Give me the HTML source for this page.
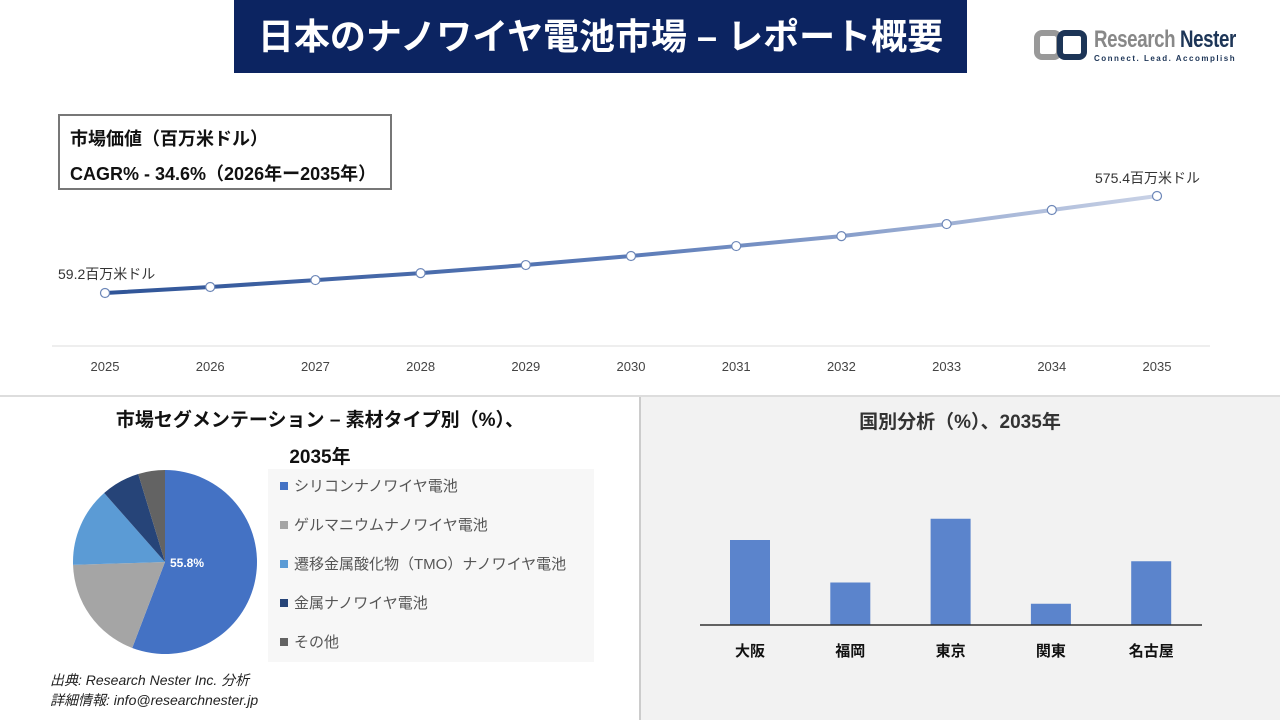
<!DOCTYPE html>
<html><head><meta charset="utf-8">
<style>
body{margin:0;width:1280px;height:720px;background:#fff;font-family:"Liberation Sans","Noto Sans CJK JP",sans-serif;position:relative;overflow:hidden}
.abs{position:absolute}
</style></head><body>
<div class="abs" style="left:234px;top:0;width:733px;height:73px;background:#0c2461;color:#fff;font-size:36px;font-weight:bold;line-height:73px;text-align:center;white-space:nowrap">日本のナノワイヤ電池市場 – レポート概要</div>
<div class="abs" style="left:1034px;top:26px;width:220px;height:40px">
<svg width="56" height="36" style="position:absolute;left:0;top:2px"><rect x="3" y="5" width="22" height="24" rx="5" fill="none" stroke="#999" stroke-width="6"/><rect x="26" y="5" width="24" height="24" rx="5" fill="none" stroke="#1d3557" stroke-width="6"/></svg>
<div class="abs" style="left:60px;top:0;font-size:24px;font-weight:bold;color:#888;white-space:nowrap;letter-spacing:-0.5px;transform:scaleX(0.78);transform-origin:left top">Research <span style="color:#1d3557">Nester</span></div>
<div class="abs" style="left:60px;top:28px;font-size:8px;font-weight:bold;color:#1d3557;letter-spacing:1.5px;white-space:nowrap">Connect. Lead. Accomplish</div>
</div>
<div class="abs" style="left:58px;top:114px;width:330px;height:72px;border:2px solid #777;font-weight:bold;font-size:18px;color:#111">
<div style="position:absolute;left:10px;top:9px">市場価値（百万米ドル）</div>
<div style="position:absolute;left:10px;top:44px;white-space:nowrap">CAGR% - 34.6%（2026年ー2035年）</div>
</div>
<svg class="abs" style="left:0;top:0" width="1280" height="400" id="lineSvg">
<defs><linearGradient id="lg" x1="105" x2="1157" y1="0" y2="0" gradientUnits="userSpaceOnUse"><stop offset="0" stop-color="#2f5497"/><stop offset="0.5" stop-color="#5b7bb8"/><stop offset="1" stop-color="#c9d2e6"/></linearGradient></defs>
<line x1="52" x2="1210" y1="346" y2="346" stroke="#ddd"/>
</svg>
<div class="abs" style="left:0;top:395px;width:1280px;height:2px;background:#ddd"></div>
<div class="abs" style="left:640px;top:397px;width:640px;height:323px;background:#f2f2f2"></div>
<div class="abs" style="left:639px;top:397px;width:2px;height:323px;background:#ccc"></div>
<div class="abs" style="left:60px;top:402px;width:520px;text-align:center;font-weight:bold;font-size:19px;line-height:37px;color:#111">市場セグメンテーション – 素材タイプ別（%）、<br>2035年</div>
<div class="abs" style="left:268px;top:469px;width:326px;height:193px;background:#f7f7f7"></div>
<svg class="abs" style="left:0;top:397px" width="640" height="323" id="pieSvg"></svg>
<div class="abs" style="left:50px;top:670px;font-style:italic;font-size:14px;color:#222;line-height:20px">出典: Research Nester Inc. 分析<br>詳細情報: info@researchnester.jp</div>
<div class="abs" style="left:640px;top:407px;width:640px;text-align:center;font-weight:bold;font-size:19px;color:#333">国別分析（%）、2035年</div>
<svg class="abs" style="left:640px;top:397px" width="640" height="323" id="barSvg"></svg>
<script>
const years=[2025,2026,2027,2028,2029,2030,2031,2032,2033,2034,2035];
const values=[59.2,91,128,165,208,256,309,362,426,501,575.4];
const pieLabels=["シリコンナノワイヤ電池","ゲルマニウムナノワイヤ電池","遷移金属酸化物（TMO）ナノワイヤ電池","金属ナノワイヤ電池","その他"];
const pieValues=[55.8,18.7,14.0,6.8,4.7];
const pieColors=["#4472c4","#a5a5a5","#5b9bd5","#264478","#636363"];
const regions=["大阪","福岡","東京","関東","名古屋"];
const regionValues=[20,10,25,5,15];
const NS="http://www.w3.org/2000/svg";
function mk(p,t,a){const e=document.createElementNS(NS,t);for(const k in a)e.setAttribute(k,a[k]);p.appendChild(e);return e;}
const ls=document.getElementById('lineSvg');
const xS=i=>105+i*105.2;
const yS=v=>293-(v-59.2)*(97/516.2);
let d=values.map((v,i)=>(i?'L':'M')+xS(i)+','+yS(v)).join(' ');
const path=mk(ls,'path',{d:d,fill:'none',stroke:'url(#lg)','stroke-width':4});


values.forEach((v,i)=>{
 const c=mk(ls,'circle',{cx:xS(i),cy:yS(v),r:4.5,fill:'#fff',stroke:'#6d87b8','stroke-width':1.2});
 
 
 const t=mk(ls,'text',{x:xS(i),y:371,'text-anchor':'middle','font-size':13,fill:'#444'});
 t.textContent=years[i];
 
 
});
const l1=mk(ls,'text',{x:58,y:279,'font-size':14,fill:'#333'});l1.textContent=values[0]+'百万米ドル';


const l2=mk(ls,'text',{x:1095,y:183,'font-size':14,fill:'#333'});l2.textContent=values[10]+'百万米ドル';


const ps=document.getElementById('pieSvg');
const cx=165,cy=165,r=92;
const tot=pieValues.reduce((a,b)=>a+b,0);
let acc=0;
pieValues.forEach((v,i)=>{
 const a0=acc/tot*2*Math.PI;acc+=v;const a1=acc/tot*2*Math.PI;
 const x0=cx+r*Math.sin(a0),y0=cy-r*Math.cos(a0),x1=cx+r*Math.sin(a1),y1=cy-r*Math.cos(a1);
 const s=mk(ps,'path',{d:`M${cx},${cy} L${x0},${y0} A${r},${r} 0 ${a1-a0>Math.PI?1:0} 1 ${x1},${y1} Z`,fill:pieColors[i]});
 
 
 const ly=90+i*39;
 const sq=mk(ps,'rect',{x:280,y:ly-5,width:8,height:8,fill:pieColors[i]});
 
 
 const t=mk(ps,'text',{x:294,y:ly+4,'font-size':15,fill:'#555'});t.textContent=pieLabels[i];
 
 
});
const pl=mk(ps,'text',{x:170,y:170,'font-size':12,'font-weight':'bold',fill:'#fff'});pl.textContent=pieValues[0]+'%';


const bs=document.getElementById('barSvg');
const base=228,hs=85/20;
regions.forEach((n,i)=>{
 const cxb=110+i*100.3,h=regionValues[i]*hs;
 const b=mk(bs,'rect',{x:cxb-20,y:base-h,width:40,height:h,fill:'#5b84cc'});
 
 
 const t=mk(bs,'text',{x:cxb,y:259,'text-anchor':'middle','font-size':15,'font-weight':'bold',fill:'#111'});t.textContent=n;
 
 
});
const ax=mk(bs,'line',{x1:60,x2:562,y1:base,y2:base,stroke:'#333','stroke-width':1.5});


</script>
</body></html>
